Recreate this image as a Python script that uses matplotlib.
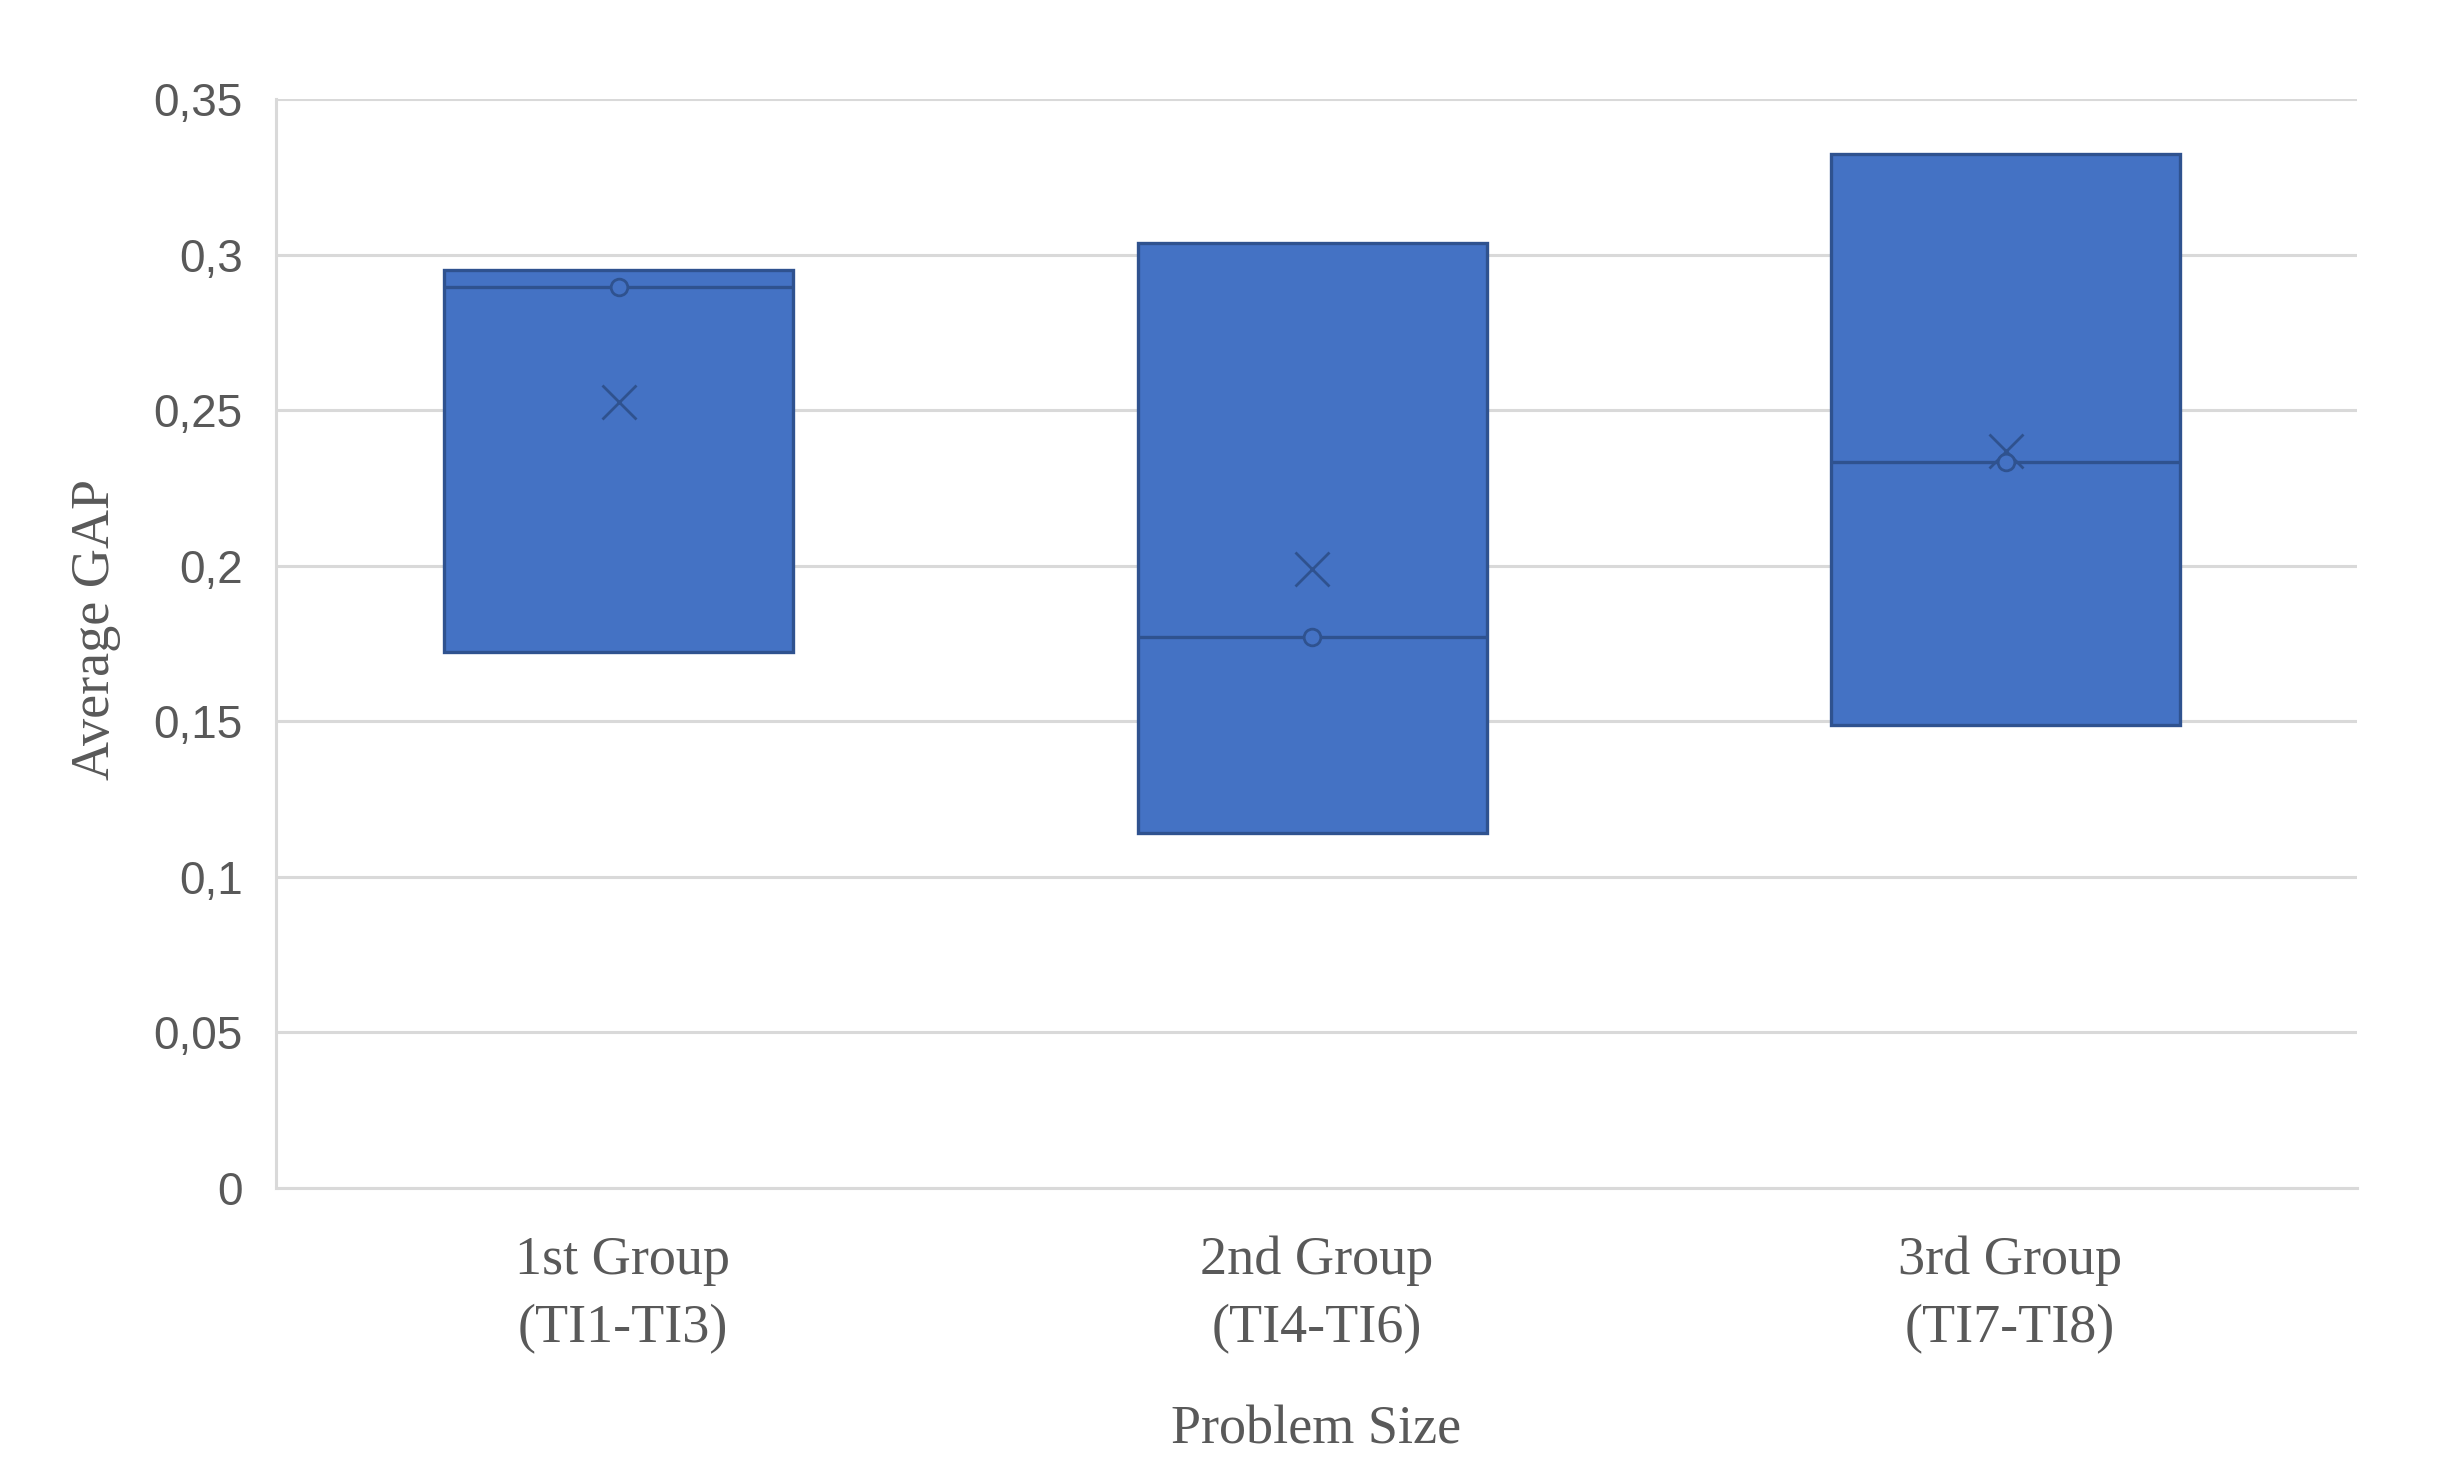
import matplotlib
matplotlib.use('Agg')
import matplotlib.pyplot as plt
from matplotlib.ticker import FuncFormatter, MultipleLocator

# Values (Excel-style box & whisker)
groups = ['1st Group\n(TI1-TI3)', '2nd Group\n(TI4-TI6)', '3rd Group\n(TI7-TI8)']
q1 = [0.1721, 0.1141, 0.1489]
q3 = [0.2950, 0.3038, 0.3322]
medians = [0.2895, 0.1772, 0.2334]
means = [0.2526, 0.1989, 0.2368]
inner_points = [0.2895, 0.1772, 0.2334]

box_color = '#4472C4'
edge_color = '#2F528F'
grid_color = '#D9D9D9'
text_color = '#595959'

fig = plt.figure(figsize=(24.55, 14.84), dpi=100)
ax = fig.add_axes([0.1124, 0.1995, 0.8476, 0.7338])

# whiskers collapse onto the box (min = Q1, max = Q3)
stats = []
for i in range(len(groups)):
    stats.append({'med': medians[i], 'q1': q1[i], 'q3': q3[i],
                  'whislo': q1[i], 'whishi': q3[i], 'mean': means[i],
                  'fliers': []})

ticks = list(range(len(groups)))
positions = [t - 0.006 for t in ticks]
ax.bxp(stats, positions=positions, widths=0.503, patch_artist=True,
       showmeans=True, showcaps=False, showfliers=False,
       boxprops=dict(facecolor=box_color, edgecolor=edge_color, linewidth=2.4),
       medianprops=dict(color=edge_color, linewidth=2.4),
       whiskerprops=dict(color=edge_color, linewidth=0),
       meanprops=dict(marker='x', markersize=24, markeredgecolor=edge_color,
                      markeredgewidth=2.0, linestyle='none'),
       zorder=3)

# inner points (hollow circles)
ax.plot(positions, inner_points, linestyle='none', marker='o', markersize=12,
        markerfacecolor=box_color, markeredgecolor=edge_color,
        markeredgewidth=2.0, zorder=4)

ax.set_xlim(-0.5, len(groups) - 0.5)
ax.set_ylim(0, 0.35)
ax.yaxis.set_major_locator(MultipleLocator(0.05))
ax.yaxis.set_major_formatter(FuncFormatter(lambda v, p: f'{v:.2f}'.rstrip('0').rstrip('.').replace('.', ',') if v != 0 else '0'))
ax.grid(axis='y', color=grid_color, linewidth=2.2, zorder=0)
ax.set_axisbelow(True)

for side in ['top', 'right']:
    ax.spines[side].set_visible(False)
for side in ['left', 'bottom']:
    ax.spines[side].set_color(grid_color)
    ax.spines[side].set_linewidth(2.2)

ax.set_xticks(ticks)
ax.set_xticklabels(groups, fontfamily='Liberation Serif', fontsize=39,
                   color=text_color, linespacing=1.48)
ax.tick_params(axis='y', length=0, pad=24, labelsize=33, labelcolor=text_color)
ax.tick_params(axis='x', length=0, pad=34)
for lbl in ax.get_yticklabels():
    lbl.set_fontfamily('Liberation Sans')

ax.set_xlabel('Problem Size', fontfamily='Liberation Serif', fontsize=39,
              color=text_color, va='top')
ax.xaxis.set_label_coords(0.5, -0.199)
ax.set_ylabel('Average GAP', fontfamily='Liberation Serif', fontsize=39,
              color=text_color)
ax.yaxis.set_label_coords(-0.0745, 0.513)

fig.savefig('out.png', dpi=100, facecolor='white')
